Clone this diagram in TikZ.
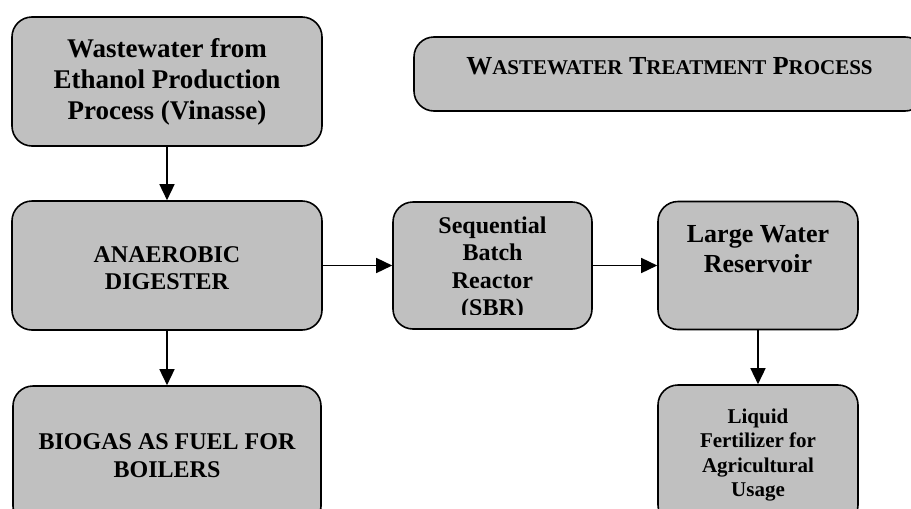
\documentclass[tikz,border=0pt]{standalone}
\usepackage{fontspec}
\setmainfont{Liberation Serif}
\usetikzlibrary{arrows.meta}
\definecolor{boxgray}{RGB}{192,192,192}
\newcommand{\fsz}[2]{\fontsize{#1}{#2}\selectfont}
\newcommand{\fakesc}[2]{#1{\fsz{21}{25}#2}}
\tikzset{
    pbox/.style={draw=black,fill=boxgray,line width=1.6pt,rounded corners=20pt,
        align=center,inner sep=0pt},
    ptext/.style={align=center,inner sep=0pt},
    flow/.style={
        every edge/.style={draw,line width=1.5pt,-{Triangle[length=16pt,width=15pt]}},
    }
}

\begin{document}
\begin{tikzpicture}[x=1pt,y=-1pt,flow]
\useasboundingbox (0,0) rectangle (911,509);
\node[pbox,minimum width=310pt,minimum height=129pt,font=\bfseries\fsz{27}{31}] (vin) at (167,81.5)
    {Wastewater from\\Ethanol Production\\Process (Vinasse)};
\node[pbox,minimum width=511pt,minimum height=74pt,text depth=16pt,font=\bfseries\fsz{26}{31}] (title) at (669.5,74)
    {\fakesc{W}{ASTEWATER} \fakesc{T}{REATMENT} \fakesc{P}{ROCESS}};
\node[pbox,minimum width=310pt,minimum height=129pt,text height=49pt,font=\bfseries\fsz{24}{27}] (anaer) at (167,265.5)
    {ANAEROBIC\\DIGESTER};
\node[pbox,minimum width=199pt,minimum height=127pt] (sbr) at (492.5,265.5) {};
\node[pbox,minimum width=200pt,minimum height=128pt,text depth=34pt,font=\bfseries\fsz{26}{30}] (res) at (758,265.5)
    {Large Water\\Reservoir};
\node[pbox,minimum width=308pt,minimum height=140pt,font=\bfseries\fsz{24}{28}] (bio) at (167,456)
    {BIOGAS AS FUEL FOR\\BOILERS};
\node[pbox,minimum width=200pt,minimum height=140pt,font=\bfseries\fsz{21}{24.5}] (liq) at (758,455)
    {Liquid\\Fertilizer for\\Agricultural\\Usage};
\begin{scope}
\clip (395,203) rectangle (590,314);
\node[ptext,anchor=base,font=\bfseries\fsz{24}{27.5}] (sbrtext) at (492.5,315.5)
    {Sequential\\Batch\\Reactor\\(SBR)};
\end{scope}
\path
    (vin) edge (anaer)
    (anaer) edge (sbr)
    (sbr) edge (res)
    (anaer) edge (bio)
    (res) edge (liq)
;
\end{tikzpicture}
\end{document}
